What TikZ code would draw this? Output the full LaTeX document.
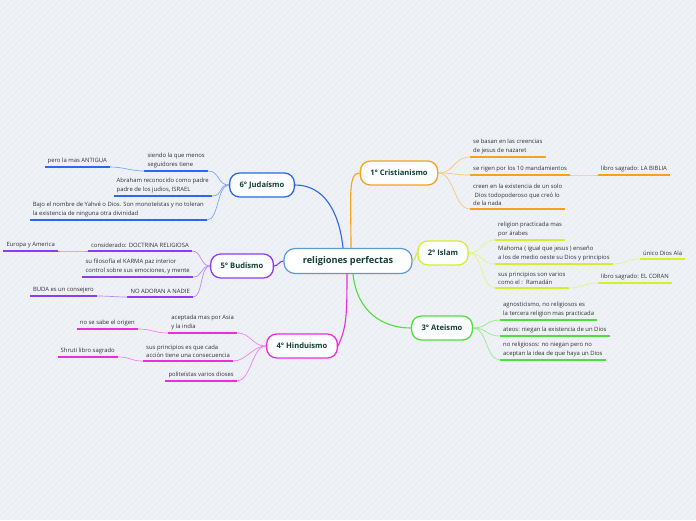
\documentclass[tikz,border=0pt]{standalone}
\usepackage{fontspec}
\setmainfont{Open Sans}
\usepackage{tikz}
\usetikzlibrary{calc}
\usepackage{xcolor}

\definecolor{bgc}{HTML}{EEF1F6}
\definecolor{txtdark}{HTML}{123F35}
\definecolor{leaftxt}{HTML}{333333}
\definecolor{cCtr}{HTML}{5B9BD5}
\definecolor{cOr}{HTML}{F7A21B}
\definecolor{cYe}{HTML}{D6EE2E}
\definecolor{cGr}{HTML}{4DE03A}
\definecolor{cBl}{HTML}{2C67F2}
\definecolor{cPu}{HTML}{8B3DF2}
\definecolor{cMa}{HTML}{EE2BE0}
\newcommand\leafsize{\fontsize{5.9}{8.6}\selectfont}

\begin{document}
\begin{tikzpicture}[
    x=1pt, y=-1pt,
    topic/.style={draw=#1, line width=1.3pt, rounded corners=10pt, fill=white!85!bgc,
                  font=\fontsize{7.6}{9}\selectfont\bfseries, text=txtdark,
                  minimum height=24pt, inner xsep=10pt},
    leafR/.style={anchor=south west, font=\leafsize, align=left, text=leaftxt,
                  inner xsep=3pt, inner ysep=3pt},
    leafL/.style={anchor=south east, font=\leafsize, align=left, text=leaftxt,
                  inner xsep=3pt, inner ysep=3pt},
    ul/.style={draw=#1, line width=1.4pt},
    br/.style={draw=#1!60, line width=0.7pt},
    mb/.style={draw=#1, line width=1.1pt}
]
% background
\fill[bgc] (0,0) rectangle (696,520);
\begin{scope}
\clip (0,0) rectangle (696,520);
\foreach \k in {-520,-514,...,696}{
    \draw[bgc!96!black, line width=0.3pt] (\k,520) -- (\k+520,0);
}
\end{scope}
\useasboundingbox (0,0) rectangle (696,520);

% centre and topics
\node[draw=cCtr, line width=1.2pt, rounded corners=11pt, fill=white,
      font=\fontsize{9.2}{11}\selectfont\bfseries, text=txtdark,
      minimum height=25pt, minimum width=128pt] (ctr) at (348,261) {religiones perfectas};
\node[topic=cOr] (cris) at (399,173) {1° Cristianismo};
\node[topic=cYe] (isl)  at (443,253) {2° Islam};
\node[topic=cGr] (ate)  at (442,328) {3° Ateismo};
\node[topic=cMa] (hin)  at (302,346) {4° Hinduismo};
\node[topic=cPu] (bud)  at (242,266) {5° Budismo};
\node[topic=cBl] (jud)  at (262,185) {6° Judaísmo};

% main branches
\draw[mb=cOr] ([xshift=3pt]ctr.north) .. controls +(0,-50) and +(-12,0) .. (cris.west);
\draw[mb=cYe] (ctr.east) .. controls +(3,0) and +(-2,0) .. (isl.west);
\draw[mb=cGr] ([xshift=5pt]ctr.south) .. controls +(4,38) and +(-28,0) .. (ate.west);
\draw[mb=cMa] ([xshift=-1pt]ctr.south) .. controls +(0,45) and +(8,-18) .. (hin.east);
\draw[mb=cPu] (ctr.west) .. controls +(-4,0) and +(4,0) .. (bud.east);
\draw[mb=cBl] ([xshift=-5pt]ctr.north) .. controls +(-4,-38) and +(28,0) .. (jud.east);

% Cristianismo
\node[leafR] (cris1) at (470,157) {se basan en las creencias\\de jesus de nazaret};
\node[leafR] (cris2) at (470,175) {se rigen por los 10 mandamientos};
\node[leafR] (cris2a) at (598,175) {libro sagrado: LA BIBLIA};
\node[leafR] (cris3) at (470,209) {creen en la existencia de un solo\\\ Dios todopoderoso que creó lo\\de la nada};
\foreach \n in {cris1,cris2,cris2a,cris3}{ \draw[ul=cOr] (\n.south west) -- (\n.south east); }
\foreach \n in {cris1,cris2,cris3}{
    \draw[br=cOr] (cris.east) .. controls +(16,0) and +(-16,0) .. (\n.south west);
}
\draw[br=cOr] (cris2.south east) .. controls +(10,0) and +(-10,0) .. (cris2a.south west);

% Islam
\node[leafR] (isl1) at (495,240) {religion practicada mas\\por árabes};
\node[leafR] (isl2) at (495,264) {Mahoma ( igual que jesus ) enseño\\a los de medio oeste su Dios y principios};
\node[leafR] (isl2a) at (640,259) {único Dios Ala};
\node[leafR] (isl3) at (495,288) {sus principios son varios\\como el :\ \ Ramadán};
\node[leafR] (isl3a) at (598,283) {libro sagrado: EL CORAN};
\foreach \n in {isl1,isl2,isl2a,isl3,isl3a}{ \draw[ul=cYe] (\n.south west) -- (\n.south east); }
\foreach \n in {isl1,isl2,isl3}{
    \draw[br=cYe] (isl.east) .. controls +(14,0) and +(-14,0) .. (\n.south west);
}
\draw[br=cYe] (isl2.south east) .. controls +(14,0) and +(-14,0) .. (isl2a.south west);
\draw[br=cYe] (isl3.south east) .. controls +(14,0) and +(-14,0) .. (isl3a.south west);

% Ateismo
\node[leafR] (ate1) at (500,320) {agnosticismo, no religiosos es\\la tercera religion mas practicada};
\node[leafR] (ate2) at (500,336) {ateos: niegan la existencia de un Dios};
\node[leafR] (ate3) at (500,360) {no religiosos: no niegan pero no\\aceptan la idea de que haya un Dios};
\foreach \n in {ate1,ate2,ate3}{
    \draw[ul=cGr] (\n.south west) -- (\n.south east);
    \draw[br=cGr] (ate.east) .. controls +(14,0) and +(-14,0) .. (\n.south west);
}

% Judaismo
\node[leafL] (jud1) at (208,171) {siendo la que menos\\seguidores tiene};
\node[leafL] (jud1a) at (110,167) {pero la mas ANTIGUA};
\node[leafL] (jud2) at (212,196) {Abraham reconocido como padre\\padre de los judios, ISRAEL};
\node[leafL] (jud3) at (207,220) {Bajo el nombre de Yahvé o Dios. Son monoteístas y no toleran\\la existencia de ninguna otra divinidad};
\foreach \n in {jud1,jud1a,jud2,jud3}{ \draw[ul=cBl] (\n.south west) -- (\n.south east); }
\foreach \n in {jud1,jud2,jud3}{
    \draw[br=cBl] (jud.west) .. controls +(-12,0) and +(12,0) .. (\n.south east);
}
\draw[br=cBl] (jud1.south west) .. controls +(-14,0) and +(14,0) .. (jud1a.south east);

% Budismo
\node[leafL] (bud1) at (192,251) {considerado: DOCTRINA RELIGIOSA};
\node[leafL] (bud1a) at (58,251) {Europa y America};
\node[leafL] (bud2) at (193,277) {su filosofía el KARMA paz interior\\control sobre sus emociones, y mente};
\node[leafL] (bud3) at (193,297) {NO ADORAN A NADIE};
\node[leafL] (bud3a) at (97,296) {BUDA es un consejero};
\foreach \n in {bud1,bud1a,bud2,bud3,bud3a}{ \draw[ul=cPu] (\n.south west) -- (\n.south east); }
\foreach \n in {bud1,bud2,bud3}{
    \draw[br=cPu] (bud.west) .. controls +(-10,0) and +(10,0) .. (\n.south east);
}
\draw[br=cPu] (bud1.south west) .. controls +(-12,0) and +(12,0) .. (bud1a.south east);
\draw[br=cPu] (bud3.south west) .. controls +(-12,0) and +(12,0) .. (bud3a.south east);

% Hinduismo
\node[leafL] (hin1) at (237,333) {aceptada mas por Asia\\y la india};
\node[leafL] (hin1a) at (138,329) {no se sabe el origen};
\node[leafL] (hin2) at (233,361) {sus principios es que cada\\acción tiene una consecuencia};
\node[leafL] (hin2a) at (118,357) {Shruti libro sagrado};
\node[leafL] (hin3) at (237,381) {politeístas varios dioses};
\foreach \n in {hin1,hin1a,hin2,hin2a,hin3}{ \draw[ul=cMa] (\n.south west) -- (\n.south east); }
\foreach \n in {hin1,hin2,hin3}{
    \draw[br=cMa] (hin.west) .. controls +(-14,0) and +(14,0) .. (\n.south east);
}
\draw[br=cMa] (hin1.south west) .. controls +(-14,0) and +(14,0) .. (hin1a.south east);
\draw[br=cMa] (hin2.south west) .. controls +(-14,0) and +(14,0) .. (hin2a.south east);

\end{tikzpicture}
\end{document}
